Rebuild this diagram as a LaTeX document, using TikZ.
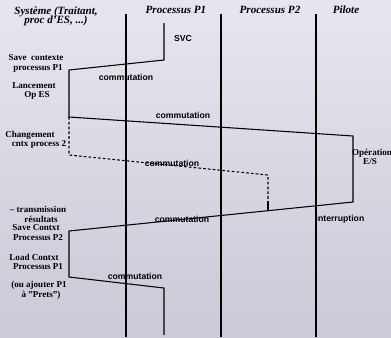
\documentclass[tikz,border=0pt]{standalone}
\usepackage{fontspec}
\setmainfont{Liberation Serif}
\setsansfont{Liberation Sans}
\usetikzlibrary{positioning}
\definecolor{bgtop}{RGB}{230,230,238}
\definecolor{bgbot}{RGB}{202,202,216}

\begin{document}
\begin{tikzpicture}[x=0.75pt,y=-0.75pt,
    title/.style={font=\fontsize{8.3}{9}\selectfont\bfseries\itshape, align=center},
    note/.style={font=\fontsize{6.8}{7.5}\selectfont\bfseries},
    evt/.style={font=\sffamily\fontsize{6.5}{7}\selectfont\bfseries},
    lane/.style={line width=1.5pt},
    trace/.style={line width=0.8pt}]
    \shade[top color=bgtop, bottom color=bgbot] (0,0) rectangle (391,337);
    \useasboundingbox (0,0) rectangle (391,337);
    % Column titles
    \node[title] (sys) at (56,16) {Système (Traitant,\\[-2pt]proc d'ES, ...)};
    \node[title] (p1) at (176,10) {Processus P1};
    \node[title] (p2) at (270,10) {Processus P2};
    \node[title] (pil) at (346,10) {Pilote};
    % Lanes
    \foreach \x in {126,221,316} {
        \draw[lane] (\x,14) -- (\x,337);
    }
    % Execution trace
    \draw[trace] (164,23) -- (164,60) -- (69,70) -- (69,117) -- (353,136)
        -- (353,202) -- (69,231) -- (69,277) -- (164,288) -- (164,335);
    % P2 running (dashed)
    \draw[trace, dash pattern=on 2pt off 1.6pt] (69,117) -- (69,155) -- (268,175) -- (268,201);
    \draw[trace] (268,201) -- (268,210);
    % Events
    \node[evt] (svc) at (183,39) {SVC};
    \node[evt] (comA) at (126,77) {commutation};
    \node[evt] (comB) at (183,115) {commutation};
    \node[evt] (comC) at (172,163) {commutation};
    \node[evt] (comD) at (182,219) {commutation};
    \node[evt] (irq) at (340,219) {interruption};
    \node[evt] (comE) at (135,276) {commutation};
    % System notes
    \node[note] (saveA) at (36,58) {Save~ contexte};
    \node[note] (saveB) at (38,68) {processus P1};
    \node[note] (lanA) at (34,86) {Lancement};
    \node[note] (lanB) at (37,95) {Op ES};
    \node[note] (chgA) at (30,135) {Changement};
    \node[note] (chgB) at (39,144) {cntx process 2};
    \node[note] (trA) at (38,209) {-- transmission};
    \node[note] (trB) at (41,219) {résultats};
    \node[note] (trC) at (36,228) {Save Contxt};
    \node[note] (trD) at (38,238) {Processus P2};
    \node[note] (ldA) at (34,257) {Load Contxt};
    \node[note] (ldB) at (38,267) {Processus P1};
    \node[note] (ajA) at (39,285) {(ou ajouter P1};
    \node[note] (ajB) at (41,295) {à "Prets")};
    \node[note] (opA) at (372,153) {Opération};
    \node[note] (opB) at (370,162) {E/S};
\end{tikzpicture}
\end{document}
